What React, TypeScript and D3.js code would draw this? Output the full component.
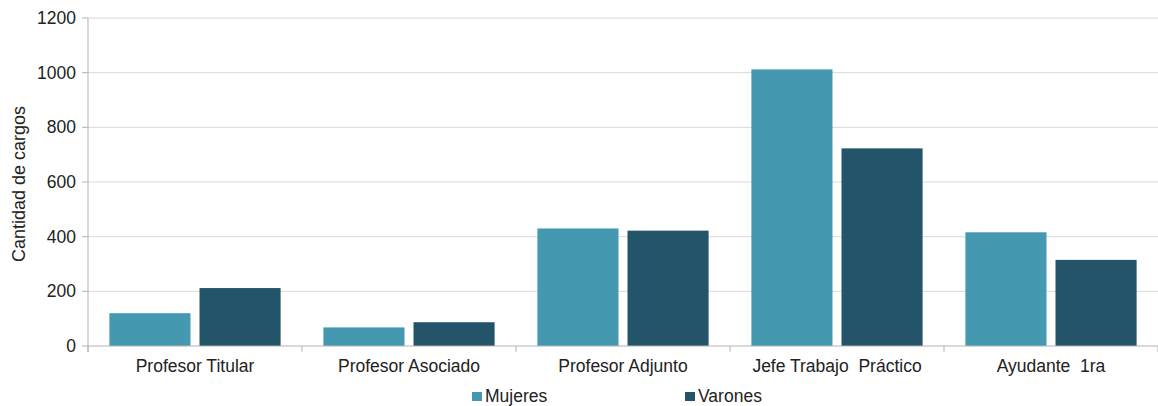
import React from 'react';
import * as d3 from 'd3';

const categories = ['Profesor Titular', 'Profesor Asociado', 'Profesor Adjunto', 'Jefe Trabajo  Práctico', 'Ayudante  1ra'];
const seriesNames = ['Mujeres', 'Varones'];
const mujeres = [120, 68, 430, 1012, 416];
const varones = [212, 87, 422, 723, 315];
const yTicks = [0, 200, 400, 600, 800, 1000, 1200];
const colors = ['#4499B0', '#235469'];

const width = 1158;
const height = 406;
const margin = { top: 18, right: 0, bottom: 60, left: 88 };

export default function App() {
  const x0 = d3.scaleBand<string>()
    .domain(categories)
    .range([margin.left, width - margin.right])
    .paddingInner(0.2)
    .paddingOuter(0.1);
  const x1 = d3.scaleBand<string>()
    .domain(seriesNames)
    .range([0, x0.bandwidth()])
    .paddingInner(0.1);
  const y = d3.scaleLinear().domain([0, 1200]).range([height - margin.bottom, margin.top]);

  const values = [mujeres, varones];
  const step = x0.step();
  const font = '"Liberation Sans", Arial, sans-serif';

  return (
    <svg width={width} height={height} style={{ position: 'absolute', left: 0, top: 0, background: '#fff' }}
      fontFamily={font}>
      {/* grid */}
      {yTicks.map(t => (
        <g key={t}>
          {t > 0 && <line x1={margin.left} x2={width} y1={y(t)} y2={y(t)} stroke="#d9d9d9" strokeWidth={1} />}
          <line x1={margin.left - 6} x2={margin.left} y1={y(t)} y2={y(t)} stroke="#b3b3b3" />
          <text x={margin.left - 12} y={y(t)} dy="0.35em" textAnchor="end" fontSize={17.5} fill="#222">{t}</text>
        </g>
      ))}

      {/* bars */}
      {categories.map((c, i) => (
        <g key={c} transform={`translate(${x0(c)},0)`}>
          {seriesNames.map((s, j) => (
            <rect key={s} x={x1(s)} y={y(values[j][i])} width={x1.bandwidth()}
              height={y(0) - y(values[j][i])} fill={colors[j]} />
          ))}
        </g>
      ))}

      {/* axes */}
      <line x1={margin.left} x2={margin.left} y1={margin.top} y2={y(0) + 6} stroke="#b3b3b3" />
      <line x1={margin.left} x2={width} y1={y(0)} y2={y(0)} stroke="#b3b3b3" />
      {d3.range(categories.length + 1).map(i => {
        const xx = margin.left + step * i;
        return <line key={i} x1={xx} x2={xx} y1={y(0)} y2={y(0) + 6} stroke="#b3b3b3" />;
      })}
      {categories.map(c => (
        <text key={c} x={(x0(c) ?? 0) + x0.bandwidth() / 2} y={372} textAnchor="middle"
          fontSize={17.5} fill="#222" style={{ whiteSpace: 'pre' }}>{c}</text>
      ))}

      <text transform={`translate(25,184) rotate(-90)`} textAnchor="middle"
        fontSize={18} fill="#222">Cantidad de cargos</text>

      {/* legend */}
      {seriesNames.map((s, j) => {
        const lx = j === 0 ? 472 : 685;
        return (
          <g key={s}>
            <rect x={lx} y={392} width={10} height={9} fill={colors[j]} />
            <text x={lx + 13} y={402} fontSize={17.5} fill="#222">{s}</text>
          </g>
        );
      })}
    </svg>
  );
}
